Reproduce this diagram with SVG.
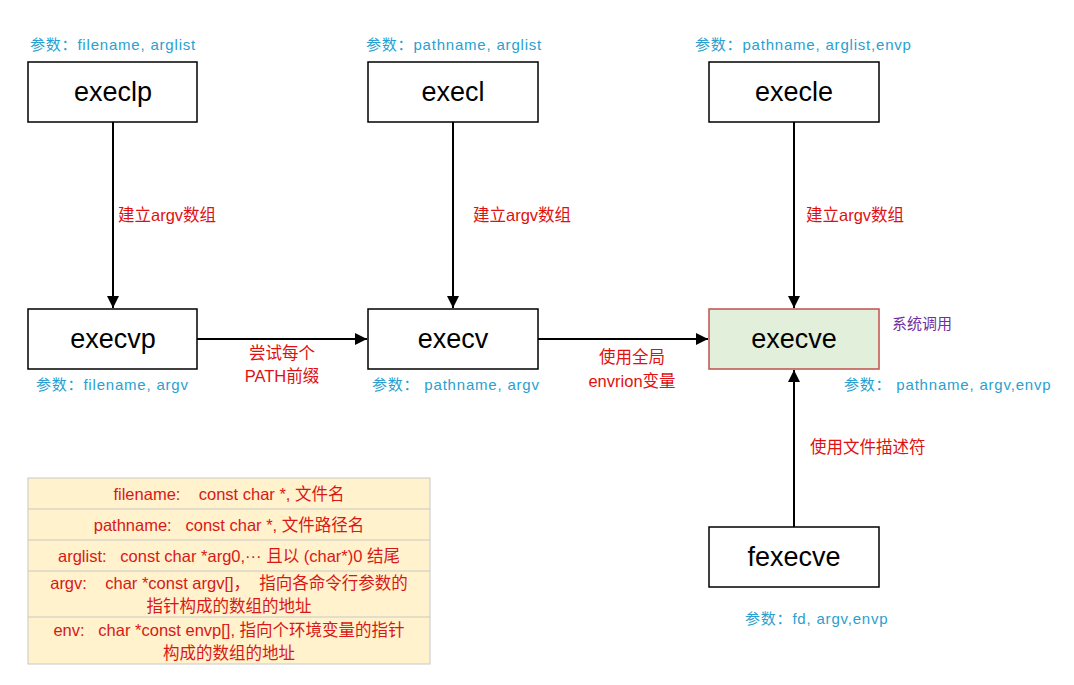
<svg xmlns="http://www.w3.org/2000/svg" width="1074" height="685" viewBox="0 0 1074 685">
<style>
text{white-space:pre}
.box{fill:#fff;stroke:#000;stroke-width:1.5}
.nt{font-family:"Liberation Sans","Noto Sans CJK SC",sans-serif;font-size:27px;fill:#000;text-anchor:middle}
.pm{font-family:"Liberation Sans","Noto Sans CJK SC",sans-serif;font-size:15px;letter-spacing:0.8px;fill:#2a9fd0}
.rd{font-family:"Liberation Sans","Noto Sans CJK SC",sans-serif;font-size:16.5px;fill:#e01010}
.tb{font-family:"Liberation Sans","Noto Sans CJK SC",sans-serif;font-size:16.5px;fill:#d81818;text-anchor:middle}
.ln{stroke:#000;stroke-width:2;fill:none}
</style>
<defs>
<marker id="ah" viewBox="0 0 10 10" refX="10" refY="5" markerWidth="6" markerHeight="6" markerUnits="strokeWidth" orient="auto">
<path d="M0,0 L10,5 L0,10 z" fill="#000"/>
</marker>
</defs>
<rect width="1074" height="685" fill="#fff"/>
<g id="connectors">
<line class="ln" x1="113" y1="122" x2="113" y2="308" marker-end="url(#ah)"/>
<line class="ln" x1="453" y1="122" x2="453" y2="308" marker-end="url(#ah)"/>
<line class="ln" x1="794" y1="122" x2="794" y2="308" marker-end="url(#ah)"/>
<line class="ln" x1="197" y1="339" x2="367" y2="339" marker-end="url(#ah)"/>
<line class="ln" x1="538" y1="339" x2="708" y2="339" marker-end="url(#ah)"/>
<line class="ln" x1="794" y1="527" x2="794" y2="370" marker-end="url(#ah)"/>
<text class="rd" x="118" y="221">建立argv数组</text>
<text class="rd" x="473" y="221">建立argv数组</text>
<text class="rd" x="806" y="221">建立argv数组</text>
<text class="rd" x="282" y="359" text-anchor="middle">尝试每个</text>
<text class="rd" x="282" y="382" text-anchor="middle">PATH前缀</text>
<text class="rd" x="632" y="363" text-anchor="middle">使用全局</text>
<text class="rd" x="632" y="387" text-anchor="middle">envrion变量</text>
<text class="rd" x="810" y="453">使用文件描述符</text>
</g>
<g id="execlp">
<text class="pm" x="30" y="50">参数：filename, arglist</text>
<rect class="box" x="28" y="62" width="169" height="60"/>
<text class="nt" x="113" y="101">execlp</text>
</g>
<g id="execl">
<text class="pm" x="366" y="50">参数：pathname, arglist</text>
<rect class="box" x="368" y="62" width="170" height="60"/>
<text class="nt" x="453" y="101">execl</text>
</g>
<g id="execle">
<text class="pm" x="695" y="50">参数：pathname, arglist,envp</text>
<rect class="box" x="709" y="62" width="170" height="60"/>
<text class="nt" x="794" y="101">execle</text>
</g>
<g id="execvp">
<rect class="box" x="28" y="309" width="169" height="60"/>
<text class="nt" x="113" y="348">execvp</text>
<text class="pm" x="36" y="390">参数：filename, argv</text>
</g>
<g id="execv">
<rect class="box" x="368" y="309" width="170" height="60"/>
<text class="nt" x="453" y="348">execv</text>
<text class="pm" x="372" y="390">参数： pathname, argv</text>
</g>
<g id="execve">
<rect x="709" y="309" width="170" height="60" fill="#e2efda" stroke="#c0504d" stroke-width="1.5"/>
<text class="nt" x="794" y="348">execve</text>
<text x="892" y="329" font-family="Liberation Sans,Noto Sans CJK SC,sans-serif" font-size="15" fill="#7030a0">系统调用</text>
<text class="pm" x="844" y="390">参数： pathname, argv,envp</text>
</g>
<g id="fexecve">
<rect class="box" x="709" y="527" width="170" height="60"/>
<text class="nt" x="794" y="566">fexecve</text>
<text class="pm" x="745" y="624">参数：fd, argv,envp</text>
</g>
<g id="legend">
<rect x="28" y="478" width="402" height="186" fill="#fff2cc" stroke="#c8c8c8" stroke-width="1"/>
<line x1="28" y1="509" x2="430" y2="509" stroke="#c8c8c8"/>
<line x1="28" y1="540" x2="430" y2="540" stroke="#c8c8c8"/>
<line x1="28" y1="571" x2="430" y2="571" stroke="#c8c8c8"/>
<line x1="28" y1="617" x2="430" y2="617" stroke="#c8c8c8"/>
<text class="tb" x="229" y="500">filename:    const char *, 文件名</text>
<text class="tb" x="229" y="531">pathname:   const char *, 文件路径名</text>
<text class="tb" x="229" y="562">arglist:   const char *arg0,··· 且以 (char*)0 结尾</text>
<text class="tb" x="229" y="589">argv:    char *const argv[]，  指向各命令行参数的</text>
<text class="tb" x="229" y="612">指针构成的数组的地址</text>
<text class="tb" x="229" y="636">env:   char *const envp[], 指向个环境变量的指针</text>
<text class="tb" x="229" y="659">构成的数组的地址</text>
</g>
</svg>
